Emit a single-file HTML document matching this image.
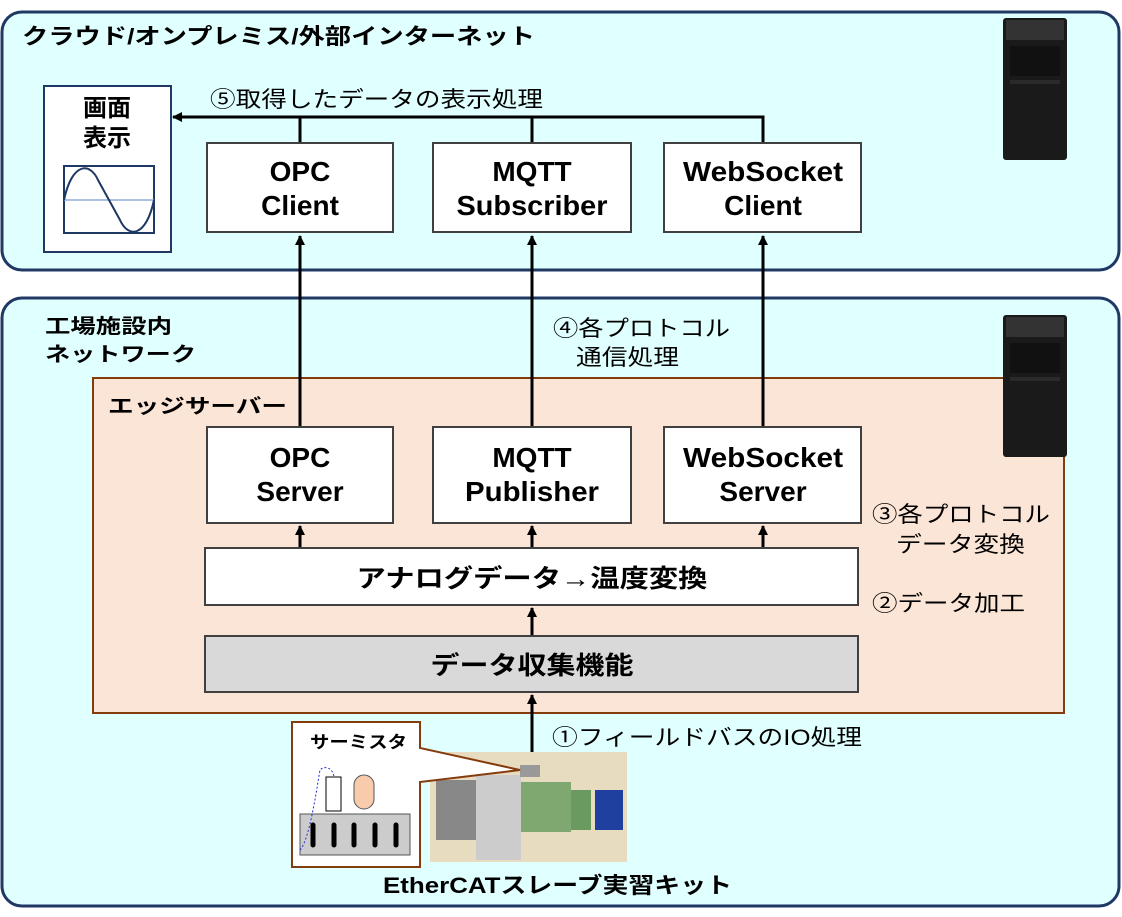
<!DOCTYPE html>
<html><head><meta charset="utf-8"><style>
body{margin:0;background:#fff}
svg{display:block}
text{font-family:"Liberation Sans","Noto Sans CJK JP",sans-serif}
.b{font-weight:bold}
</style></head><body>
<svg width="1122" height="917" viewBox="0 0 1122 917">
<defs><marker id="a" markerWidth="10" markerHeight="10" refX="9" refY="5" orient="auto" markerUnits="userSpaceOnUse"><path d="M0,0 L10,5 L0,10z" fill="#000"/></marker></defs>
<rect x="2" y="12" width="1117" height="258" rx="20" fill="#e0ffff" stroke="#1f3864" stroke-width="3"/>
<rect x="2" y="298" width="1117" height="608" rx="20" fill="#e0ffff" stroke="#1f3864" stroke-width="3"/>
<text x="22" y="44" font-size="22" class="b" textLength="513" lengthAdjust="spacingAndGlyphs">クラウド/オンプレミス/外部インターネット</text>
<g><rect x="1003" y="18" width="64" height="142" rx="3" fill="#1a1a1a"/><rect x="1006" y="20" width="58" height="20" fill="#333"/><rect x="1010" y="46" width="50" height="30" fill="#111"/><rect x="1010" y="80" width="50" height="4" fill="#2a2a2a"/></g>
<rect x="44" y="86" width="127" height="166" fill="#fff" stroke="#1f3864" stroke-width="2"/>
<text x="107" y="116" font-size="24" class="b" text-anchor="middle">画面</text>
<text x="107" y="146" font-size="24" class="b" text-anchor="middle">表示</text>
<rect x="64" y="166" width="90" height="67" fill="#fff" stroke="#1f3864" stroke-width="2"/>
<line x1="64" y1="200" x2="154" y2="200" stroke="#8faadc" stroke-width="1.5"/>
<path d="M64,200 C72,162 90,162 98,180 L120,220 C128,238 146,238 154,200" fill="none" stroke="#1f3864" stroke-width="2"/>
<polyline points="300,143 300,117 763,117 763,143" fill="none" stroke="#000" stroke-width="3"/>
<line x1="532" y1="117" x2="532" y2="143" stroke="#000" stroke-width="3"/>
<line x1="300" y1="117" x2="173" y2="117" stroke="#000" stroke-width="3" marker-end="url(#a)"/>
<text x="210" y="107" font-size="22" textLength="333" lengthAdjust="spacingAndGlyphs">⑤取得したデータの表示処理</text>
<g fill="#fff" stroke="#404040" stroke-width="2">
<rect x="207" y="143" width="186" height="89"/><rect x="433" y="143" width="198" height="89"/><rect x="664" y="143" width="197" height="89"/>
</g>
<g class="b" font-size="28" text-anchor="middle">
<text x="300" y="181">OPC</text><text x="300" y="215">Client</text>
<text x="532" y="181">MQTT</text><text x="532" y="215" textLength="151" lengthAdjust="spacingAndGlyphs">Subscriber</text>
<text x="763" y="181" textLength="160" lengthAdjust="spacingAndGlyphs">WebSocket</text><text x="763" y="215">Client</text>
</g>
<text x="45" y="333" font-size="20" class="b" textLength="127" lengthAdjust="spacingAndGlyphs">工場施設内</text>
<text x="45" y="361" font-size="20" class="b" textLength="151" lengthAdjust="spacingAndGlyphs">ネットワーク</text>
<text x="553" y="336" font-size="22" textLength="177" lengthAdjust="spacingAndGlyphs">④各プロトコル</text>
<text x="576" y="365" font-size="22" textLength="103" lengthAdjust="spacingAndGlyphs">通信処理</text>
<rect x="93" y="378" width="971" height="335" fill="#fbe5d6" stroke="#843c0c" stroke-width="2"/>
<g><rect x="1003" y="315" width="64" height="142" rx="3" fill="#1a1a1a"/><rect x="1006" y="317" width="58" height="20" fill="#333"/><rect x="1010" y="343" width="50" height="30" fill="#111"/><rect x="1010" y="377" width="50" height="4" fill="#2a2a2a"/></g>
<text x="108" y="413" font-size="20" class="b" textLength="179" lengthAdjust="spacingAndGlyphs">エッジサーバー</text>
<g stroke="#000" stroke-width="3">
<line x1="300" y1="427" x2="300" y2="236" marker-end="url(#a)"/>
<line x1="532" y1="427" x2="532" y2="236" marker-end="url(#a)"/>
<line x1="763" y1="427" x2="763" y2="236" marker-end="url(#a)"/>
<line x1="300" y1="548" x2="300" y2="526" marker-end="url(#a)"/>
<line x1="532" y1="548" x2="532" y2="526" marker-end="url(#a)"/>
<line x1="763" y1="548" x2="763" y2="526" marker-end="url(#a)"/>
<line x1="532" y1="636" x2="532" y2="608" marker-end="url(#a)"/>
<line x1="532" y1="752" x2="532" y2="695" marker-end="url(#a)"/>
</g>
<g fill="#fff" stroke="#404040" stroke-width="2">
<rect x="207" y="427" width="186" height="96"/><rect x="433" y="427" width="198" height="96"/><rect x="664" y="427" width="197" height="96"/>
<rect x="205" y="548" width="653" height="57"/>
<rect x="205" y="636" width="653" height="56" fill="#d9d9d9"/>
</g>
<g class="b" font-size="28" text-anchor="middle">
<text x="300" y="467">OPC</text><text x="300" y="501">Server</text>
<text x="532" y="467">MQTT</text><text x="532" y="501" textLength="134" lengthAdjust="spacingAndGlyphs">Publisher</text>
<text x="763" y="467" textLength="160" lengthAdjust="spacingAndGlyphs">WebSocket</text><text x="763" y="501">Server</text>
<text x="532" y="587" font-size="25" textLength="351" lengthAdjust="spacingAndGlyphs">アナログデータ→温度変換</text>
<text x="532" y="674" font-size="25" textLength="203" lengthAdjust="spacingAndGlyphs">データ収集機能</text>
</g>
<text x="872" y="522" font-size="22" textLength="178" lengthAdjust="spacingAndGlyphs">③各プロトコル</text>
<text x="896" y="552" font-size="22" textLength="129" lengthAdjust="spacingAndGlyphs">データ変換</text>
<text x="872" y="611" font-size="22" textLength="153" lengthAdjust="spacingAndGlyphs">②データ加工</text>
<text x="552" y="745" font-size="22" textLength="310" lengthAdjust="spacingAndGlyphs">①フィールドバスのIO処理</text>
<text x="383" y="893" font-size="22" class="b" textLength="349" lengthAdjust="spacingAndGlyphs">EtherCATスレーブ実習キット</text>
<rect x="430" y="752" width="197" height="110" fill="#e8dcc0"/>
<rect x="436" y="780" width="40" height="60" fill="#888"/>
<rect x="476" y="775" width="45" height="85" fill="#ccc"/>
<rect x="521" y="782" width="50" height="50" fill="#7fa870"/>
<rect x="571" y="790" width="20" height="40" fill="#6a9a60"/>
<rect x="595" y="790" width="28" height="40" fill="#2040a0"/>
<rect x="520" y="765" width="20" height="12" fill="#999"/>
<polygon points="292,722 420,722 420,748 520,770 420,782 420,867 292,867" fill="#fff" stroke="#843c0c" stroke-width="2"/>
<text x="310" y="748" font-size="17" class="b" textLength="97" lengthAdjust="spacingAndGlyphs">サーミスタ</text>
<rect x="300" y="814" width="110" height="41" fill="#ccc" stroke="#555"/>
<g stroke="#000" stroke-width="5" stroke-linecap="round"><line x1="313" y1="825" x2="313" y2="845"/><line x1="334" y1="825" x2="334" y2="845"/><line x1="354" y1="825" x2="354" y2="845"/><line x1="375" y1="825" x2="375" y2="845"/><line x1="396" y1="825" x2="396" y2="845"/></g>
<rect x="326" y="777" width="15" height="34" fill="#fff" stroke="#000"/>
<rect x="354" y="775" width="20" height="34" rx="10" fill="#f8cbad" stroke="#555"/>
<path d="M300,850 C310,840 318,780 320,770 C325,765 333,768 334,777" fill="none" stroke="#2030d0" stroke-dasharray="2,2"/>
</svg>
</body></html>
